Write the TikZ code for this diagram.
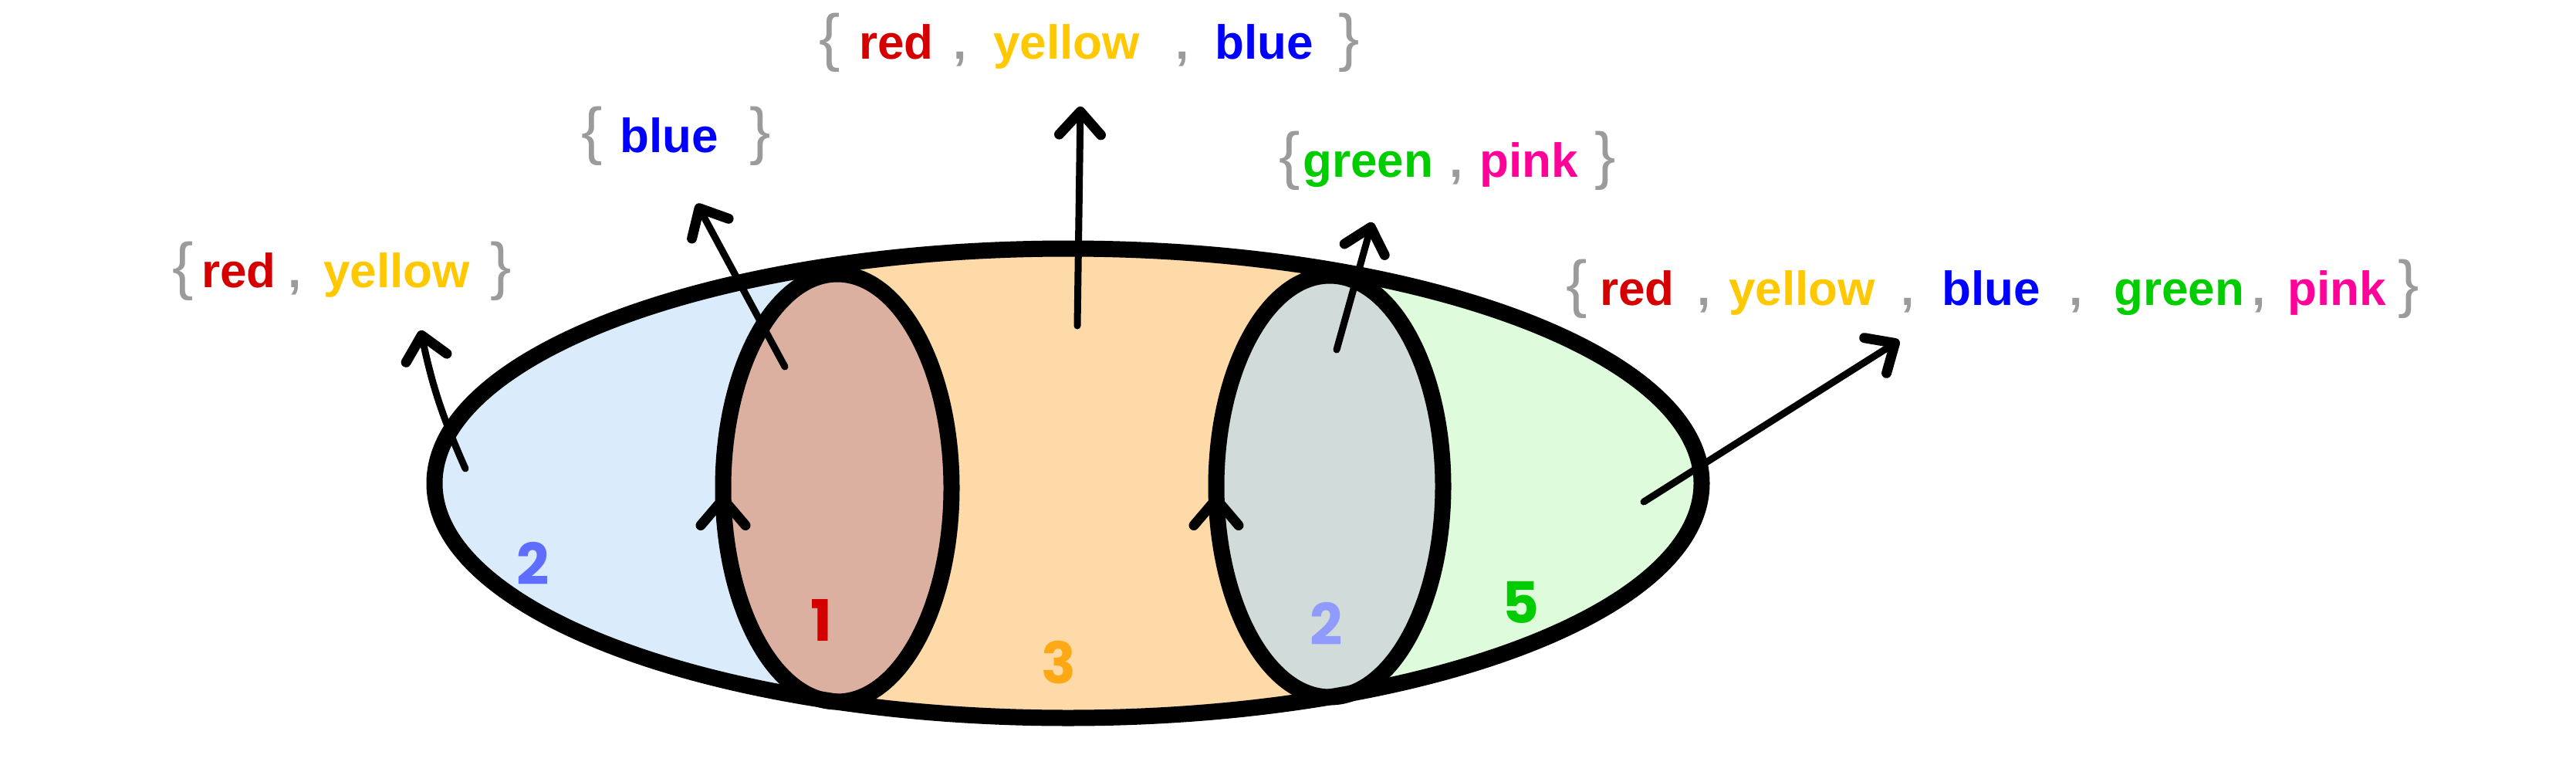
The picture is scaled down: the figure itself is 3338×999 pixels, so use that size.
\documentclass[tikz,border=0pt]{standalone}
\usepackage{fontspec}
\setmainfont{Liberation Sans}
\newfontfamily\digitfont{Poppins}
\usetikzlibrary{arrows.meta}
\definecolor{braceg}{HTML}{9B9B9B}
\definecolor{cred}{HTML}{D40000}
\definecolor{cyellow}{HTML}{FFC800}
\definecolor{cblue}{HTML}{0000FF}
\definecolor{cgreen}{HTML}{00CC00}
\definecolor{cpink}{HTML}{FF0099}
\definecolor{fblue}{HTML}{DAECFC}
\definecolor{forange}{HTML}{FDDAA8}
\definecolor{fgreen}{HTML}{DEFCDB}
\definecolor{fbrown}{HTML}{DBB0A0}
\definecolor{fgray}{HTML}{D1DBDA}
\definecolor{nblue}{HTML}{5F6EFF}
\definecolor{nlblue}{HTML}{8F9BFF}
\definecolor{norange}{HTML}{FFA815}
\newcommand\putw[3]{\rlap{\hspace*{#1pt}\textcolor{#2}{#3}}}
\newcommand\putbr[2]{\rlap{\hspace*{#1pt}{\fontsize{82}{82}\selectfont\mdseries\textcolor{braceg}{#2}}}}
\newcommand\putcm[1]{\rlap{\hspace*{#1pt}\textcolor{braceg}{,}}}
\tikzset{
  lbl/.style={anchor=base west, inner sep=0pt, font=\fontsize{62}{70}\selectfont\bfseries},
  num/.style={inner sep=0pt, font=\digitfont\bfseries\fontsize{74}{74}\selectfont},
  ring/.style={draw=black, line width=21pt},
  arr/.style={line width=9pt, line cap=round, -{Straight Barb[round, length=30pt, width=54pt, line width=13pt]}},
  chev/.style={line width=9pt, line cap=round, -{Straight Barb[round, length=34pt, width=58pt, line width=13pt]}}
}
\begin{document}
\begin{tikzpicture}[x=1pt, y=-1pt]
\useasboundingbox (0,0) rectangle (3338,999);
% region fills
\begin{scope}
  \clip (1384,626) ellipse [x radius=821pt, y radius=304pt];
  \fill[fblue] (500,250) rectangle (1085,1000);
  \fill[forange] (1085,250) rectangle (1723,1000);
  \fill[fgreen] (1723,250) rectangle (2300,1000);
\end{scope}
\fill[fbrown] (1085,632) ellipse [x radius=148pt, y radius=277pt];
\fill[fgray] (1723,630) ellipse [x radius=147pt, y radius=273pt];
% outlines
\draw[ring] (1384,626) ellipse [x radius=821pt, y radius=304pt];
\draw[ring] (1085,632) ellipse [x radius=148pt, y radius=277pt];
\draw[ring] (1723,630) ellipse [x radius=147pt, y radius=273pt];
% direction marks on the small sets
\coordinate (ca0) at (937,690); \coordinate (ca1) at (937,640);
\coordinate (cb0) at (1576,690); \coordinate (cb1) at (1576,640);
\draw[chev] (ca0) -- (ca1);
\draw[chev] (cb0) -- (cb1);
% counts
\node[num, text=nblue] (n1) at (691,730) {2};
\node[num, text=cred] (n2) at (1064,803) {1};
\node[num, text=norange] (n3) at (1372,858) {3};
\node[num, text=nlblue] (n4) at (1719,808) {2};
\node[num, text=cgreen] (n5) at (1971,780) {5};
% labels
\node[lbl] (ltop) at (1061,76) {\makebox[700pt][l]{\putbr{0}{\{}\putw{52}{cred}{red}\putcm{174}\putw{226}{cyellow}{yellow}\putcm{462}\putw{513}{cblue}{blue}\putbr{673}{\}}}};
\node[lbl] (lleft) at (223,372) {\makebox[440pt][l]{\putbr{0}{\{}\putw{38}{cred}{red}\putcm{150}\putw{196}{cyellow}{yellow}\putbr{412}{\}}}};
\node[lbl] (lblue) at (753,197) {\makebox[245pt][l]{\putbr{0}{\{}\putw{50}{cblue}{blue}\putbr{218}{\}}}};
\node[lbl] (lgp) at (1657,229) {\makebox[437pt][l]{\putbr{0}{\{}\putw{31}{cgreen}{green}\putcm{221}\putw{260}{cpink}{pink}\putbr{409}{\}}}};
\node[lbl] (lall) at (2029,395) {\makebox[1106pt][l]{\putbr{0}{\{}\putw{44}{cred}{red}\putcm{170}\putw{211}{cyellow}{yellow}\putcm{434}\putw{487}{cblue}{blue}\putcm{652}\putw{710}{cgreen}{green}\putcm{889}\putw{935}{cpink}{pink}\putbr{1078}{\}}}};
% arrows
\coordinate (t1) at (603,607);  \coordinate (h1) at (545,428);
\coordinate (t2) at (1017,475); \coordinate (h2) at (903,264);
\coordinate (t3) at (1396,422); \coordinate (h3) at (1400,138);
\coordinate (t4) at (1732,453); \coordinate (h4) at (1778,288);
\coordinate (t5) at (2130,650); \coordinate (h5) at (2461,441);
\draw[arr] (t1) to[bend left=6] (h1);
\draw[arr] (t2) -- (h2);
\draw[arr] (t3) -- (h3);
\draw[arr] (t4) -- (h4);
\draw[arr] (t5) -- (h5);
\end{tikzpicture}
\end{document}
